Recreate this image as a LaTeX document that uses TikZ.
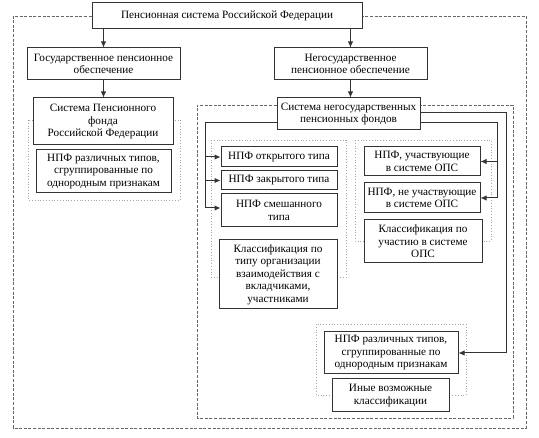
\documentclass[tikz,border=0pt]{standalone}
\usepackage{fontspec}
\setmainfont{Liberation Serif}
\usetikzlibrary{arrows.meta}
\begin{document}
\begin{tikzpicture}[x=1pt,y=-1pt,
  box/.style={draw=black!80,line width=1pt,fill=white,inner sep=1pt,align=center,
    font=\rmfamily\fontsize{11.2}{12.5}\selectfont},
  conn/.style={draw=black!80,line width=1pt},
  arr/.style={conn,-{Latex[length=6pt,width=5.5pt]}},
  outerdash/.style={draw=black!60,line width=0.8pt,dash pattern=on 3pt off 1.6pt},
  grp/.style={draw=black!35,line width=0.8pt,dotted}]
\useasboundingbox (0,0) rectangle (539,438);
% group frames (behind boxes)
\draw[grp] (28,120) rectangle (180,200);
\draw[grp] (211,140) rectangle (346,277);
\draw[grp] (355,140) rectangle (491,241);
\draw[grp] (316,324) rectangle (466,395);
% boxes
\node[box,minimum width=270,minimum height=26] (top) at (227,16) {Пенсионная система Российской Федерации};
\node[box,minimum width=153,minimum height=32] (gos) at (103.5,64) {Государственное пенсионное\\обеспечение};
\node[box,minimum width=140,minimum height=47] (pfr) at (103,121.5) {Система Пенсионного\\фонда\\Российской Федерации};
\node[box,minimum width=135,minimum height=43] (npfL) at (103.5,171.5) {НПФ различных типов,\\сгруппированные по\\однородным признакам};
\node[box,minimum width=153,minimum height=32] (negos) at (350.5,64) {Негосударственное\\пенсионное обеспечение};
\node[box,minimum width=143,minimum height=32] (sys) at (348.5,114) {Система негосударственных\\пенсионных фондов};
\node[box,minimum width=116,minimum height=20] (open) at (279,157) {НПФ открытого типа};
\node[box,minimum width=116,minimum height=19] (closed) at (279,180.5) {НПФ закрытого типа};
\node[box,minimum width=116,minimum height=33] (mixed) at (279,210.5) {НПФ смешанного\\типа};
\node[box,minimum width=118,minimum height=69] (classL) at (278,274.5) {Классификация по\\типу организации\\взаимодействия с\\вкладчиками,\\участниками};
\node[box,minimum width=116,minimum height=29] (part) at (422,161.5) {НПФ, участвующие\\в системе ОПС};
\node[box,minimum width=116,minimum height=30] (nonpart) at (422,198) {НПФ, не участвующие\\в системе ОПС};
\node[box,minimum width=118,minimum height=43] (classR) at (423,241.5) {Классификация по\\участию в системе\\ОПС};
\node[box,minimum width=134,minimum height=42] (npfB) at (391,353) {НПФ различных типов,\\сгруппированные по\\однородным признакам};
\node[box,minimum width=117,minimum height=33] (other) at (390.5,395.5) {Иные возможные\\классификации};
% dashed frames
\draw[outerdash] (top.west) -- (13,16) -- (13,428) -- (526,428) -- (526,16) -- (top.east);
\draw[outerdash] ([yshift=9pt]sys.west) -- (197,105) -- (197,418) -- (513,418) -- (513,105) -- ([yshift=9pt]sys.east);
% vertical arrows
\draw[arr] (gos.north |- top.south) -- (gos.north);
\draw[arr] (negos.north |- top.south) -- (negos.north);
\draw[arr] (gos.south) -- (gos.south |- pfr.north);
\draw[arr] (negos.south) -- (negos.south |- sys.north);
% left bus
\coordinate (lv) at (205,123);
\draw[conn] ([yshift=-9pt]sys.west) -- (lv) -- (lv |- 0,208);
\draw[arr] (lv |- open.west) -- (open.west);
\draw[arr] (lv |- closed.west) -- (closed.west);
\draw[arr] (lv |- 0,208) -- (mixed.west |- 0,208);
% right buses
\coordinate (rv1) at (497,123);
\coordinate (rv2) at (506,113);
\draw[conn] ([yshift=-9pt]sys.east) -- (rv1) -- (rv1 |- nonpart.east);
\draw[arr] (rv1 |- part.east) -- (part.east);
\draw[arr] (rv1 |- nonpart.east) -- (nonpart.east);
\draw[conn] ([yshift=1pt]sys.east) -- (rv2) -- (rv2 |- npfB.east);
\draw[arr] (rv2 |- npfB.east) -- (npfB.east);
\end{tikzpicture}
\end{document}
